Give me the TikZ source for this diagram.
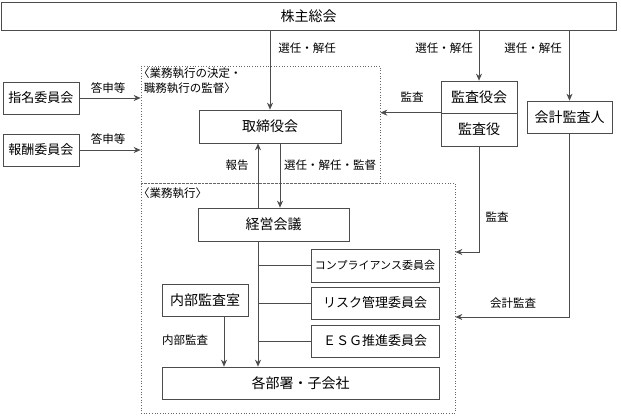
\documentclass[tikz,border=0pt]{standalone}
\usepackage{fontspec}
\setmainfont{Noto Sans CJK JP}
\usetikzlibrary{arrows.meta}

\tikzset{
	box/.style={draw=black!70,line width=0.7pt,rectangle,inner sep=0pt,font=\fontsize{14}{16}\selectfont},
	frame/.style={draw=black!60,dotted,line width=0.7pt,rectangle,inner sep=0pt},
	lbl/.style={font=\fontsize{11.5}{14}\selectfont,inner sep=0pt}
}

\begin{document}
\begin{tikzpicture}[x=1pt,y=-1pt]
	\useasboundingbox (0,0) rectangle (621,415);
	\begin{scope}[every node/.style={box}]
		\node[minimum width=615,minimum height=28] (GM) at (308.5,16) {株主総会};
		\node[minimum width=76,minimum height=32,font=\fontsize{13}{15}\selectfont] (NC) at (41,98) {指名委員会};
		\node[minimum width=76,minimum height=32,font=\fontsize{13}{15}\selectfont] (RC) at (41,150) {報酬委員会};
		\node[minimum width=142,minimum height=33] (BD) at (270,126.5) {取締役会};
		\node[minimum width=76,minimum height=32] (KY) at (479,97) {監査役会};
		\node[minimum width=76,minimum height=33] (KA) at (479,129.5) {監査役};
		\node[minimum width=85,minimum height=32] (AA) at (569.5,117) {会計監査人};
		\node[minimum width=151,minimum height=33] (MC) at (273.5,224.5) {経営会議};
		\node[minimum width=128,minimum height=33,font=\fontsize{11}{13}\selectfont] (CC) at (375,265.5) {コンプライアンス委員会};
		\node[minimum width=128,minimum height=32,font=\fontsize{13}{15}\selectfont] (RM) at (375,303) {リスク管理委員会};
		\node[minimum width=128,minimum height=32,font=\fontsize{13}{15}\selectfont] (ESG) at (375,341) {ＥＳＧ推進委員会};
		\node[minimum width=86,minimum height=32] (IA) at (205,300) {内部監査室};
		\node[minimum width=277,minimum height=32] (BU) at (300.5,383) {各部署・子会社};
	\end{scope}
	% dotted frames
	\node[frame,minimum width=239,minimum height=117] (BF) at (260.5,124.5) {};
	\node[frame,minimum width=314,minimum height=230] (EF) at (298,298) {};
	\node[lbl,anchor=north west,align=left,font=\fontsize{11.5}{15}\selectfont] at (138,68) {〈業務執行の決定・\\\hspace{0.5em}職務執行の監督〉};
	\node[lbl,anchor=west,font=\fontsize{11.5}{13}\selectfont] at (138,193) {〈業務執行〉};

	\coordinate (r1) at (258,0);
	\coordinate (r2) at (280,0);
	\coordinate (r3) at (224,0);
	\coordinate (a1) at (0,252);
	\coordinate (a2) at (0,317);

	\begin{scope}[>={Stealth[length=7pt,width=6pt]},every path/.style={draw=black!70,line width=0.7pt}]
		\draw[->] (BD |- GM.south) -- (BD.north);
		\draw[->] (KY |- GM.south) -- (KY.north);
		\draw[->] (AA |- GM.south) -- (AA.north);
		\draw[->] (NC.east) -- (NC.east -| BF.west);
		\draw[->] (RC.east) -- (RC.east -| BF.west);
		\draw[->] (KA.north west) -- (KA.north west -| BF.east);
		\draw[->] (r1 |- MC.north) -- (r1 |- BD.south);
		\draw[->] (r2 |- BD.south) -- (r2 |- MC.north);
		\draw[->] (r1 |- MC.south) -- (r1 |- BU.north);
		\draw (r1 |- CC.west) -- (CC.west);
		\draw (r1 |- RM.west) -- (RM.west);
		\draw (r1 |- ESG.west) -- (ESG.west);
		\draw[->] (r3 |- IA.south) -- (r3 |- BU.north);
		\draw[->] (KA.south) |- (a1 -| EF.east);
		\draw[->] (AA.south) |- (a2 -| EF.east);
	\end{scope}

	\begin{scope}[every node/.style={lbl}]
		\node at (307,48) {選任・解任};
		\node at (444,48) {選任・解任};
		\node at (533,48) {選任・解任};
		\node at (108,88) {答申等};
		\node at (108,139) {答申等};
		\node at (412,97) {監査};
		\node at (237,165) {報告};
		\node at (330,165) {選任・解任・監督};
		\node at (497,217) {監査};
		\node at (513,303) {会計監査};
		\node at (185,340) {内部監査};
	\end{scope}
\end{tikzpicture}
\end{document}
